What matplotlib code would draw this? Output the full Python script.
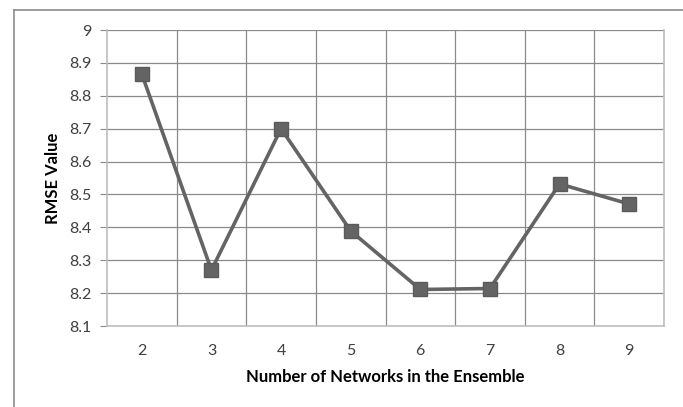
import numpy as np
import matplotlib.pyplot as plt

# ensemble size vs RMSE
n_networks = [2, 3, 4, 5, 6, 7, 8, 9]
rmse = [8.866, 8.270, 8.700, 8.389, 8.211, 8.214, 8.532, 8.471]
y_ticks = [8.1, 8.2, 8.3, 8.4, 8.5, 8.6, 8.7, 8.8, 8.9, 9.0]
y_ticklabels = ["8.1", "8.2", "8.3", "8.4", "8.5", "8.6", "8.7", "8.8", "8.9", "9"]

plt.rcParams['font.family'] = ['Lato', 'DejaVu Sans']

fig = plt.figure(figsize=(6.83, 4.07), dpi=100)
ax = fig.add_axes([107/683, 1 - 326/407, (664 - 107)/683, (326 - 30)/407])

# outer chart frame (only top and left are visible in the crop)
fig.add_artist(plt.Line2D([14/683, 14/683], [0, 1 - 10/407], transform=fig.transFigure,
                          color='#8c8c8c', lw=1.2))
fig.add_artist(plt.Line2D([14/683, 1], [1 - 10/407, 1 - 10/407], transform=fig.transFigure,
                          color='#8c8c8c', lw=1.2))

x = np.arange(len(n_networks))
ax.plot(x, rmse, color='#646464', lw=2.6, marker='s', markersize=10,
        markerfacecolor='#646464', markeredgecolor='#5a5a5a', zorder=3)

ax.set_xlim(-0.5, len(n_networks) - 0.5)
ax.set_ylim(8.1, 9.0)
ax.set_yticks(y_ticks)
ax.set_yticklabels(y_ticklabels)
ax.set_xticks(x)
ax.set_xticklabels([str(n) for n in n_networks])

# gridlines: horizontal at ticks, vertical between categories
for yv in y_ticks[1:]:
    ax.axhline(yv, color='#8a8a8a', lw=0.9, zorder=1)
for xv in np.arange(0.5, len(n_networks) - 0.5, 1):
    ax.axvline(xv, color='#8a8a8a', lw=0.9, zorder=1)

for side in ['left', 'bottom', 'right']:
    ax.spines[side].set_color('#bdbdbd')
    ax.spines[side].set_linewidth(1.2)
ax.spines['top'].set_visible(False)

ax.tick_params(axis='y', length=5, color='#8a8a8a', labelsize=11.5, labelcolor='#404040', pad=6)
ax.tick_params(axis='x', length=0, labelsize=11.5, labelcolor='#404040', pad=13)

ax.set_xlabel("Number of Networks in the Ensemble", fontsize=12, fontweight='bold', labelpad=8)
ax.set_ylabel("RMSE Value", fontsize=12, fontweight='bold', labelpad=6)

fig.savefig("out.png", dpi=100)
